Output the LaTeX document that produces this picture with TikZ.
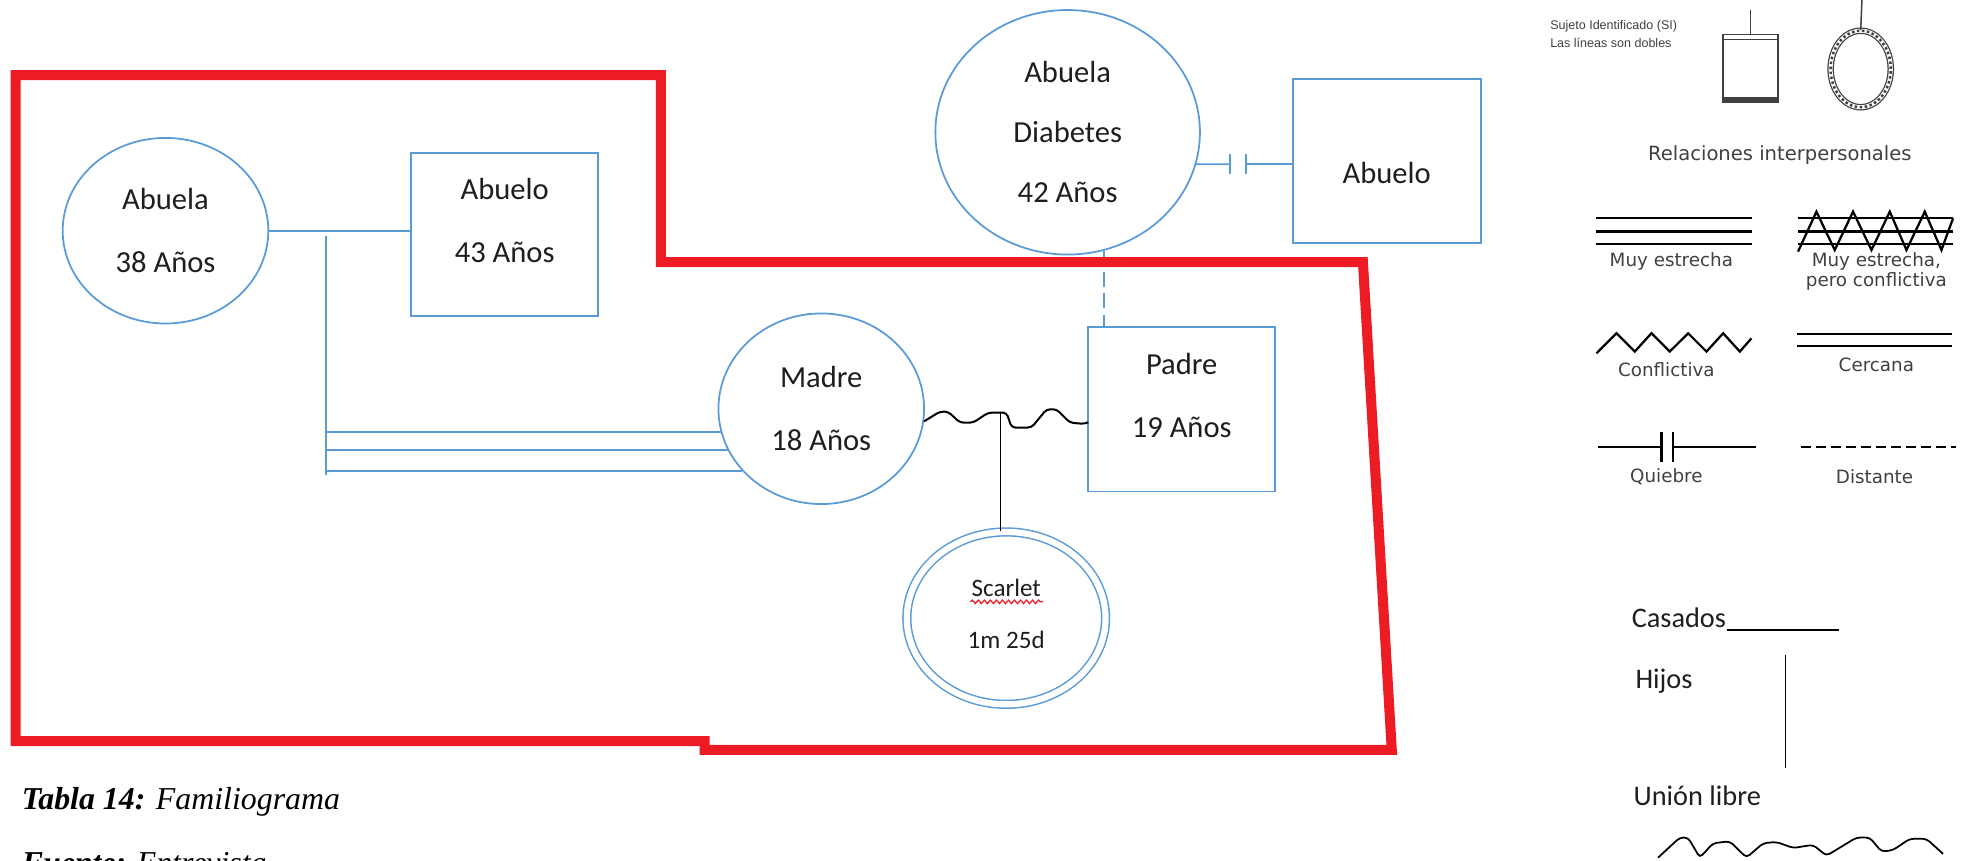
\documentclass[tikz,border=0pt]{standalone}
\usepackage{fontspec}
\setmainfont{Carlito}
\newfontfamily\legendfont{DejaVu Sans}
\newfontfamily\captionfont{Liberation Serif}
\newfontfamily\tinyfont{Liberation Sans}
\usepackage{tikz}
\usetikzlibrary{shapes.geometric}
\usetikzlibrary{snakes}

\definecolor{famblue}{RGB}{91,155,213}
\definecolor{famred}{RGB}{237,28,36}
\definecolor{legendgray}{RGB}{64,64,64}
\definecolor{textdark}{RGB}{30,30,30}

\tikzset{
  fem/.style={ellipse, draw=famblue, line width=0.7pt, inner sep=0pt, align=center, text=textdark, font=\fontsize{12.2}{25}\selectfont},
  masc/.style={rectangle, draw=famblue, line width=0.7pt, inner sep=0pt, align=center, text=textdark, font=\fontsize{12.2}{25}\selectfont},
  rel/.style={draw=famblue, line width=0.7pt},
  legtxt/.style={inner sep=0pt, align=center, text=legendgray, font=\legendfont\fontsize{7.3}{8}\selectfont},
  legline/.style={line width=0.9pt},
  kintxt/.style={anchor=base west, inner sep=0pt, text=textdark, font=\fontsize{11.3}{13}\selectfont},
}

\begin{document}
\begin{tikzpicture}[x=0.5pt,y=-0.5pt]
      \useasboundingbox (0,0) rectangle (1568,686);

      % familia
      \node[fem, minimum width=82pt, minimum height=74pt] (abuelaM) at (132,184) {Abuela\\38 Años};
      \node[masc, minimum width=74.5pt, minimum height=65pt, text depth=11pt] (abueloM) at (402.5,187) {Abuelo\\43 Años};
      \node[fem, minimum width=82pt, minimum height=76pt] (madre) at (655,326) {Madre\\18 Años};
      \node[masc, minimum width=74.5pt, minimum height=65.5pt, text depth=11pt] (padre) at (942.5,326.5) {Padre\\19 Años};
      \node[fem, minimum width=105.5pt, minimum height=97.5pt, font=\fontsize{12.2}{24}\selectfont] (abuelaP) at (851.5,105.5) {Abuela\\Diabetes\\42 Años};
      \node[masc, minimum width=75pt, minimum height=65.5pt, text height=18pt] (abueloP) at (1106,128.5) {Abuelo};
      \node[fem, double=white, double distance=2.5pt, line width=0.6pt, minimum width=79.25pt, minimum height=68.75pt, text depth=3.5pt, font=\fontsize{10}{20.5}\selectfont] (scarlet) at (802.5,493) {Scarlet\\1m 25d};
      \draw[famred, line width=0.5pt, snake=snake, segment amplitude=0.7pt, segment length=2.4pt] (774,480) -- (832,480);

      % lineas
      \coordinate (vtop) at (260,188);
      \coordinate (vbot) at (260,379);
      \draw[rel] (abuelaM.east) -- (abuelaM.east -| abueloM.west);
      \draw[rel] (vtop) -- (vbot);
      \draw[rel] (madre.193) -- (madre.193 -| vtop);
      \draw[rel] (madre.204) -- (madre.204 -| vtop);
      \draw[rel] (madre.218) -- (madre.218 -| vtop);
      \draw[rel, dash pattern=on 6pt off 2.5pt] (abuelaP.287) -- (abuelaP.287 |- padre.north);
      \coordinate (quiebreA) at (981,131);
      \coordinate (quiebreB) at (994,131);
      \draw[rel] (abuelaP.346) -- (quiebreA);
      \draw[rel] ([yshift=4pt]quiebreA) -- ([yshift=-4pt]quiebreA);
      \draw[rel] ([yshift=4pt]quiebreB) -- ([yshift=-4pt]quiebreB);
      \draw[rel] (quiebreB) -- (quiebreB -| abueloP.west);
      \coordinate (hijo) at (798,329.1);
      \draw[black, line width=0.8pt, rounded corners=1.5pt] (madre.353) -- (749.6,328.3) -- (756.2,328.3) -- (765.6,337.1) -- (776.2,337.1) -- (788.1,329.1) -- (hijo) -- (802.8,329.1) -- (806.8,341) -- (822.7,341) -- (834.7,326.4) -- (842.7,326.4) -- (853.3,337.1) -- (865.2,338.1) -- (padre.188.8);
      \draw[black, line width=0.6pt] (hijo) -- (hijo |- scarlet.north);

      % limite rojo
      \draw[famred, line width=4pt] (12.5,60) -- (527,60) -- (527,209) -- (1087,209) -- (1110,598) -- (562,598) -- (562,591) -- (12.5,591) -- cycle;

      \node[anchor=base west, inner sep=0pt, font=\captionfont\fontsize{12.7}{15}\selectfont] (tabla) at (17,646) {\textbf{\textit{Tabla 14:}} \textit{Familiograma}};
      \node[anchor=base west, inner sep=0pt, font=\captionfont\fontsize{12.7}{15}\selectfont] (fuente) at (17,697) {\textbf{\textit{Fuente:}} \textit{Entrevista}};

      % leyenda
      \node[anchor=west, inner sep=0pt, align=left, text=legendgray, font=\tinyfont\fontsize{5}{7}\selectfont] (sujeto) at (1236,27) {Sujeto Identificado (SI)\\Las líneas son dobles};
      \node[draw=legendgray, line width=0.7pt, minimum width=22pt, minimum height=27pt, inner sep=0pt] (sqsym) at (1396,54.5) {};
      \draw[legendgray, line width=0.5pt] ([yshift=-2.25pt]sqsym.north west) -- ([yshift=-2.25pt]sqsym.north east);
      \draw[legendgray, line width=1.5pt] ([yshift=1.6pt]sqsym.south west) -- ([yshift=1.6pt]sqsym.south east);
      \coordinate (sqtop) at (1396,8);
      \draw[legendgray, line width=0.6pt] (sqtop) -- (sqsym.north);
      \node[ellipse, draw=legendgray, double=white, double distance=1.6pt, line width=0.5pt, minimum width=24pt, minimum height=30.5pt, inner sep=0pt] (circsym) at (1484,55) {};
      \draw[legendgray, line width=1pt, densely dotted] (circsym.center) ellipse (12pt and 15.25pt);
      \coordinate (circtop) at (1485,0);
      \draw[legendgray, line width=0.6pt] (circtop) -- (circsym.north);

      \node[legtxt, font=\legendfont\fontsize{7.8}{9}\selectfont] (relTitle) at (1419.5,124) {Relaciones interpersonales};

      \foreach \y in {174,184.7,194.6} {
        \draw[legline] (1273,\y) -- (1397,\y);
        \draw[legline] (1434,\y) -- (1558,\y);
      }
      \draw[legline] (1434,200.7) -- (1448.7,168.8) -- (1463.3,199.4) -- (1477.9,168.8) -- (1492.6,199.4) -- (1507.2,168.8) -- (1520.5,199.4) -- (1535.1,168.8) -- (1548.4,199.4) -- (1557.7,174);
      \node[legtxt] (lblMuy) at (1333,208.7) {Muy estrecha};
      \node[legtxt] (lblMuyConf) at (1496.5,216.7) {Muy estrecha,\\pero conflictiva};

      \draw[legline] (1273.3,281.8) -- (1289.2,265.8) -- (1303.8,280.4) -- (1317.1,265.8) -- (1331.7,280.4) -- (1346.4,265.8) -- (1361,280.4) -- (1374.3,265.8) -- (1387.6,280.4) -- (1396.9,269.8);
      \node[legtxt] (lblConf) at (1329,295) {Conflictiva};
      \draw[legline] (1433,266.3) -- (1557,266.3);
      \draw[legline] (1433,275.9) -- (1557,275.9);
      \node[legtxt] (lblCerc) at (1496.5,291) {Cercana};

      \draw[legline] (1274.6,356.7) -- (1325.1,356.7);
      \draw[legline] (1325.1,344.2) -- (1325.1,368.2);
      \draw[legline] (1334.4,344.2) -- (1334.4,368.2);
      \draw[legline] (1334.4,356.7) -- (1400.8,356.7);
      \node[legtxt] (lblQuie) at (1329,380) {Quiebre};
      \draw[legline, dash pattern=on 4pt off 2pt] (1436,356.7) -- (1560,356.7);
      \node[legtxt] (lblDist) at (1495,380) {Distante};

      \node[kintxt] (casados) at (1301,500.2) {Casados};
      \coordinate (casadosEnd) at (1467,502.4);
      \draw[black, line width=0.6pt] (casados.south east |- casadosEnd) -- (casadosEnd);
      \node[kintxt] (hijos) at (1304,549.5) {Hijos};
      \coordinate (hijosTop) at (1424,522.3);
      \coordinate (hijosBot) at (1424,612.7);
      \draw[black, line width=0.6pt] (hijosTop) -- (hijosBot);
      \node[kintxt] (union) at (1302.5,642.5) {Unión libre};
      \draw[black, line width=0.7pt, rounded corners=1.5pt] (1322.4,684) -- (1339.7,668) -- (1346.3,668) -- (1355.7,684) -- (1366.3,672.5) -- (1379.6,671) -- (1392.9,684) -- (1406.2,672.5) -- (1416.8,671.5) -- (1430.1,676.3) -- (1446,673.8) -- (1456.7,682.5) -- (1480.6,668) -- (1491.2,668) -- (1500.6,679.2) -- (1509.8,678) -- (1523.1,669) -- (1536.5,669) -- (1549.7,681);
    \end{tikzpicture}
\end{document}
